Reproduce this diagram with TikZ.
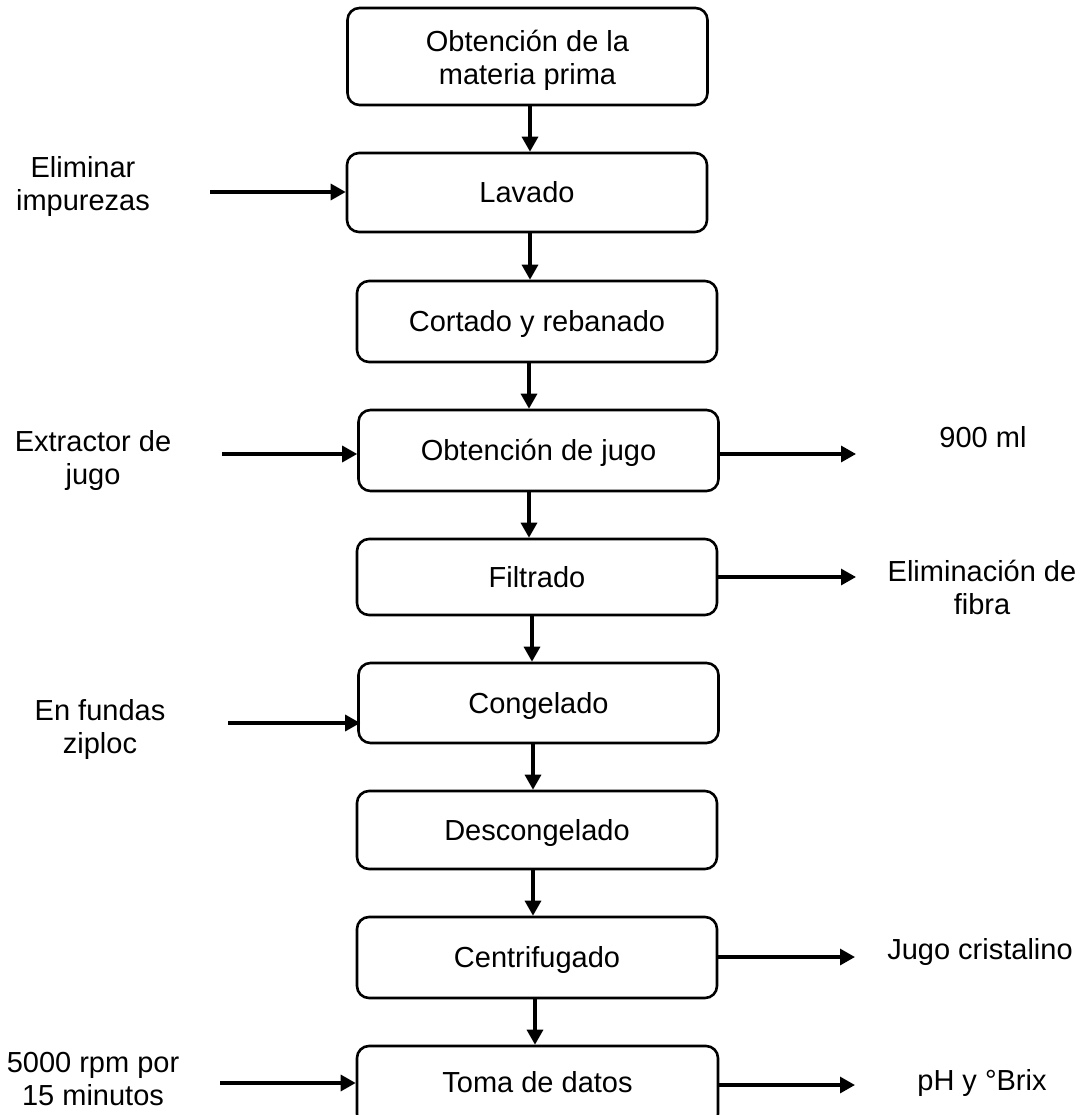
\documentclass[tikz,border=0pt]{standalone}
\usepackage{fontspec}
\setmainfont{Liberation Sans}
\usetikzlibrary{arrows.meta,calc}
\begin{document}
\begin{tikzpicture}[x=0.5pt,y=-0.5pt,
  box/.style={draw,line width=1.3pt,rounded corners=6pt,minimum width=180pt,align=center,inner sep=0pt,font=\fontsize{14.5}{16.5}\selectfont},
  one/.style={text height=10.4pt,text depth=0pt},
  lbl/.style={align=center,inner sep=0pt,font=\fontsize{14.5}{16.5}\selectfont},
  arr/.style={line width=1.6pt,-{Triangle[length=7.5pt,width=8pt]}}]
\useasboundingbox (0,0) rectangle (1086,1115);
% process boxes
\node[box,minimum height=48.5pt] (b1) at (527.5,56.5) {\raisebox{-2.5pt}[\height][\depth]{\begin{tabular}{@{}c@{}}Obtención de la\\materia prima\end{tabular}}};
\node[box,one,minimum height=39.5pt] (b2) at (527,192.5) {Lavado};
\node[box,one,minimum height=40.5pt] (b3) at (537,321.5) {Cortado y rebanado};
\node[box,one,minimum height=40.5pt] (b4) at (538.5,450.5) {Obtención de jugo};
\node[box,one,minimum height=38pt] (b5) at (537,577) {Filtrado};
\node[box,one,minimum height=40pt] (b6) at (538.5,703) {Congelado};
\node[box,one,minimum height=39pt] (b7) at (537,830) {Descongelado};
\node[box,one,minimum height=40.5pt] (b8) at (537,957.5) {Centrifugado};
\node[box,one,minimum height=40pt,minimum width=180.5pt] (b9) at (537.5,1086) {\raisebox{2pt}{Toma de datos}};
% side labels
\node[lbl] (t2) at (83,186.5) {Eliminar\\impurezas};
\node[lbl] (t4) at (93,460.5) {Extractor de\\jugo};
\node[lbl] (t6) at (100,729.5) {En fundas\\ziploc};
\node[lbl] (t9) at (93,1079) {5000 rpm por\\15 minutos};
\node[lbl] (r4) at (983,437) {900 ml};
\node[lbl] (r5) at (982,587.5) {Eliminación de\\fibra};
\node[lbl] (r8) at (980,952) {Jugo cristalino};
\node[lbl] (r9) at (982,1083) {pH y °Brix};
% free ends of side arrows
\coordinate (l2) at (210,192);
\coordinate (l4) at (222,454);
\coordinate (l6) at (228,723);
\coordinate (l9) at (220,1083);
\coordinate (e4) at (856,454);
\coordinate (e5) at (856,577);
\coordinate (e8) at (855,957);
\coordinate (e9) at (855,1085);
% vertical flow
\draw[arr] ([xshift=1.25pt]b1.south) -- ([xshift=1.25pt]b1.south |- b2.north);
\draw[arr] ([xshift=1.5pt]b2.south) -- ([xshift=1.5pt]b2.south |- b3.north);
\draw[arr] ([xshift=-4pt]b3.south) -- ([xshift=-4pt]b3.south |- b4.north);
\draw[arr] ([xshift=-4.75pt]b4.south) -- ([xshift=-4.75pt]b4.south |- b5.north);
\draw[arr] ([xshift=-2.5pt]b5.south) -- ([xshift=-2.5pt]b5.south |- b6.north);
\draw[arr] ([xshift=-2.75pt]b6.south) -- ([xshift=-2.75pt]b6.south |- b7.north);
\draw[arr] ([xshift=-2pt]b7.south) -- ([xshift=-2pt]b7.south |- b8.north);
\draw[arr] ([xshift=-1pt]b8.south) -- ([xshift=-1pt]b8.south |- b9.north);
% inputs
\draw[arr] (l2) -- (l2 -| b2.west);
\draw[arr] (l4) -- (l4 -| b4.west);
\draw[arr] (l6) -- ($(l6 -| b6.west)+(3,0)$);
\draw[arr] (l9) -- (l9 -| b9.west);
% outputs
\draw[arr] (e4 -| b4.east) -- (e4);
\draw[arr] (e5 -| b5.east) -- (e5);
\draw[arr] (e8 -| b8.east) -- (e8);
\draw[arr] (e9 -| b9.east) -- (e9);
\end{tikzpicture}
\end{document}
